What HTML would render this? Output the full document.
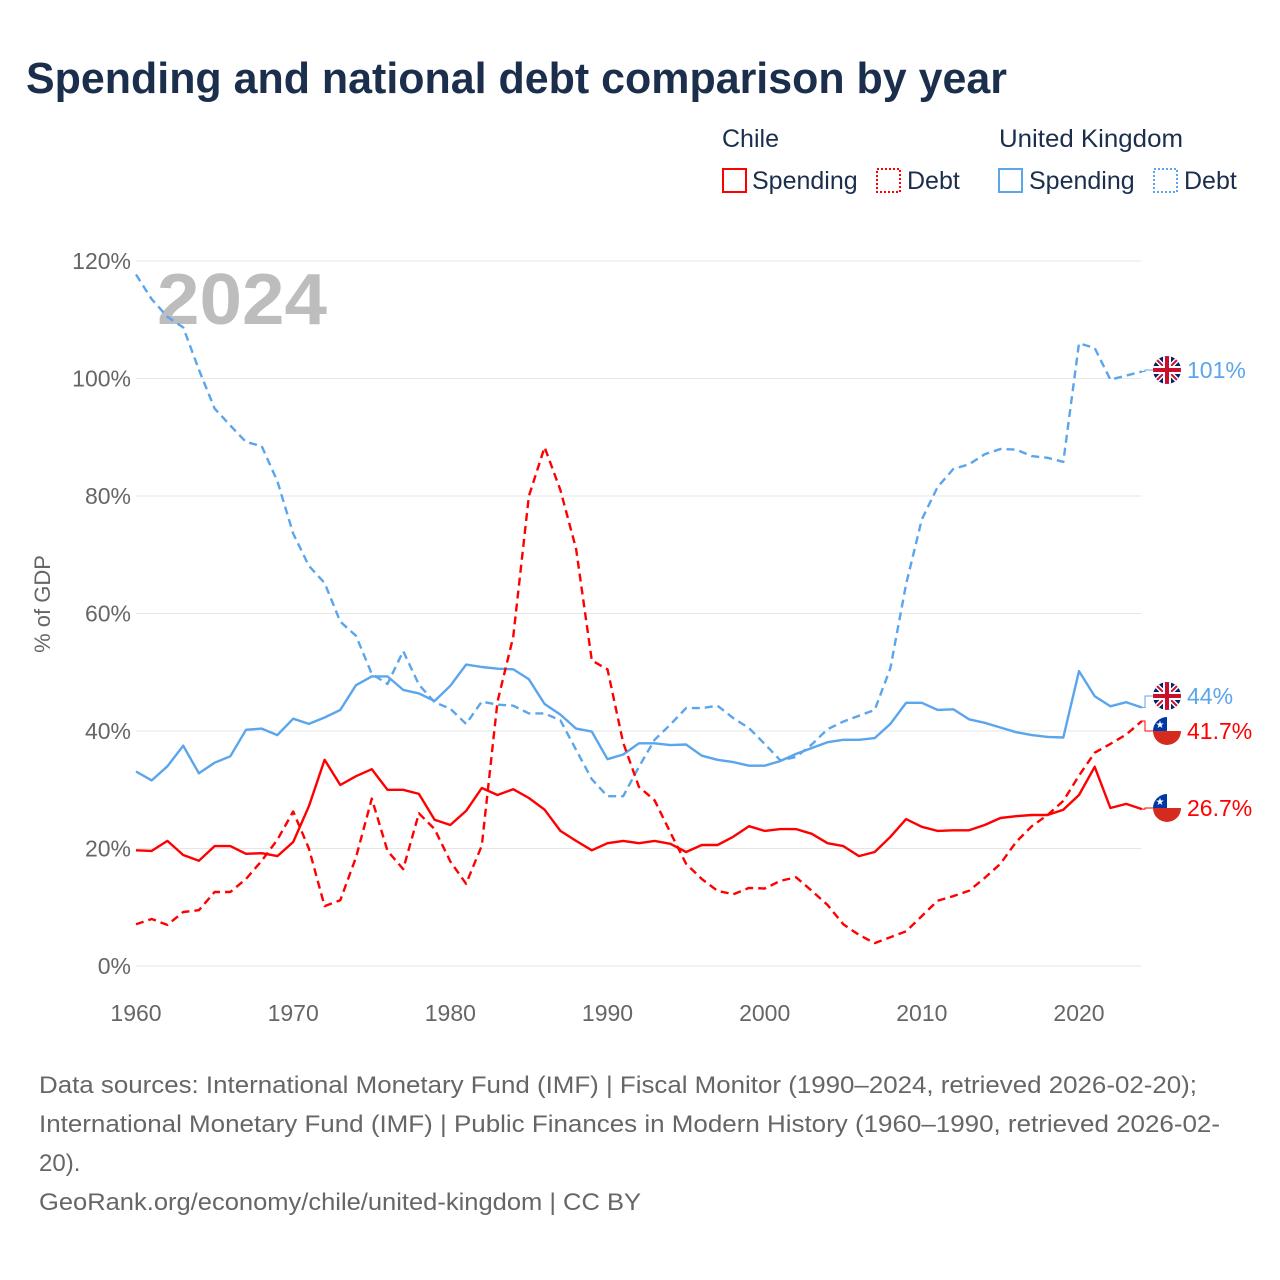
<!DOCTYPE html>
<html><head><meta charset="utf-8">
<style>
body{margin:0;background:#fff;font-family:"Liberation Sans",sans-serif;}
#wrap{position:relative;width:1280px;height:1280px;overflow:hidden;}
</style></head>
<body>
<div id="wrap">
<svg id="chart" width="1280" height="1280" xmlns="http://www.w3.org/2000/svg">
<text x="26" y="93" font-size="44" font-weight="bold" fill="#1b2f4d" textLength="981" lengthAdjust="spacingAndGlyphs">Spending and national debt comparison by year</text>
<g font-size="25" fill="#1b2f4d">
<text x="722" y="147">Chile</text>
<text x="999" y="147" textLength="184" lengthAdjust="spacingAndGlyphs">United Kingdom</text>
<g><rect x="723" y="169" width="23" height="23" fill="none" stroke="#f00" stroke-width="2"/><text x="752" y="189">Spending</text></g>
<g><rect x="877" y="169" width="23" height="23" fill="none" stroke="#f00" stroke-width="2" stroke-dasharray="2,2"/><text x="907" y="189">Debt</text></g>
<g><rect x="999" y="169" width="23" height="23" fill="none" stroke="#5aa5ec" stroke-width="2"/><text x="1029" y="189">Spending</text></g>
<g><rect x="1154" y="169" width="23" height="23" fill="none" stroke="#5aa5ec" stroke-width="2" stroke-dasharray="2,2"/><text x="1184" y="189">Debt</text></g>
</g>
<text x="157" y="324" font-size="72" font-weight="bold" fill="#bdbdbd" textLength="170" lengthAdjust="spacingAndGlyphs">2024</text>
<text transform="translate(50,604) rotate(-90)" text-anchor="middle" font-size="22" fill="#666">% of GDP</text>
<g id="grid"></g><g id="series"></g><g id="ends"></g>
<g font-size="24" fill="#666">
<text x="39" y="1093" textLength="1158" lengthAdjust="spacingAndGlyphs">Data sources: International Monetary Fund (IMF) | Fiscal Monitor (1990–2024, retrieved 2026-02-20);</text>
<text x="39" y="1132" textLength="1181" lengthAdjust="spacingAndGlyphs">International Monetary Fund (IMF) | Public Finances in Modern History (1960–1990, retrieved 2026-02-</text>
<text x="39" y="1171">20).</text>
<text x="39" y="1210" textLength="602" lengthAdjust="spacingAndGlyphs">GeoRank.org/economy/chile/united-kingdom | CC BY</text>
</g>
</svg>
</div>
<script>
const startYear = 1960;
const chileSpending = [19.7,19.6,21.3,18.9,17.9,20.4,20.4,19.1,19.2,18.7,21.1,27.2,35.1,30.8,32.3,33.5,30,30,29.3,24.9,24,26.4,30.3,29.1,30.1,28.6,26.6,23,21.3,19.7,20.9,21.3,20.9,21.3,20.8,19.4,20.6,20.6,22,23.8,23,23.3,23.3,22.5,20.9,20.4,18.7,19.4,22,25,23.7,23,23.1,23.1,24,25.2,25.5,25.7,25.7,26.6,29.1,33.9,26.9,27.6,26.7];
const chileDebt = [7.1,8,7,9.2,9.5,12.6,12.6,14.8,17.9,21.5,26.3,20,10.2,11.2,18.5,28.5,19.6,16.5,26,23.3,17.8,14,20.5,45,56,80,88.3,81,71,52,50.5,38,30.5,28.2,22.7,17.4,14.8,12.8,12.2,13.3,13.2,14.5,15.1,12.8,10.4,7.1,5.3,3.9,4.9,5.9,8.5,11.1,11.9,12.8,15,17.4,21.1,23.8,25.7,28.1,32.4,36.3,37.8,39.4,41.7];
const ukSpending = [33.1,31.6,34,37.5,32.8,34.6,35.7,40.2,40.4,39.3,42.1,41.2,42.3,43.6,47.8,49.3,49.3,47,46.4,45.1,47.7,51.3,50.9,50.6,50.5,48.8,44.6,42.8,40.4,39.9,35.2,36,37.9,37.9,37.6,37.7,35.8,35.1,34.7,34.1,34.1,34.9,36.1,37.1,38.1,38.5,38.5,38.8,41.2,44.8,44.8,43.6,43.7,42,41.4,40.6,39.8,39.3,39,38.9,50.2,45.9,44.2,44.9,44];
const ukDebt = [117.7,113.5,110.5,108.7,101.5,94.9,92,89.2,88.5,82.5,73.6,68.1,65.2,58.6,56.2,49.7,48,53.6,47.9,44.9,43.8,41.2,45,44.5,44.3,43,43,41.8,36.8,31.8,28.9,28.9,33.9,38.5,41.1,43.9,43.9,44.3,42.2,40.5,37.8,35,35.6,37.7,40.3,41.6,42.6,43.6,50.7,65,76,81.5,84.6,85.4,87.1,88,87.9,86.8,86.5,85.8,106,105.2,99.8,100.5,101.2];
const yTicks = [0,20,40,60,80,100,120];
const xTicks = [1960,1970,1980,1990,2000,2010,2020];
const endLabels = ["26.7%","41.7%","44%","101%"];

const NS="http://www.w3.org/2000/svg";
const X = yr => 136 + (yr-1960)*(1079-136)/60;
const Y = v => 966 - v*(966-261)/120;
function mk(tag, attrs, parent){const e=document.createElementNS(NS,tag);for(const k in attrs)e.setAttribute(k,attrs[k]);parent.appendChild(e);return e;}
const grid=document.getElementById('grid');
yTicks.forEach(t=>{
  const l=mk('line',{x1:136,x2:1141,y1:Y(t),y2:Y(t),stroke:'#e6e6e6','stroke-width':1},grid);
  
  
  const tx=mk('text',{x:131,y:Y(t)+8,'text-anchor':'end','font-size':23,fill:'#666'},grid);
  tx.textContent=t+'%';
  
  
});
xTicks.forEach(t=>{
  const tx=mk('text',{x:X(t),y:1021,'text-anchor':'middle','font-size':23,fill:'#666'},grid);
  tx.textContent=t;
  
  
});
const ser=document.getElementById('series');
function line(data,color,dash,name){
  const d=data.map((v,i)=>(i?'L':'M')+X(startYear+i).toFixed(1)+','+Y(v).toFixed(1)).join(' ');
  const p=mk('path',{d:d,fill:'none',stroke:color,'stroke-width':2.4,'stroke-linejoin':'round'},ser);
  if(dash)p.setAttribute('stroke-dasharray','8,5');
  
  
}
line(ukDebt,'#5aa5ec',true,'uk-debt-line');
line(ukSpending,'#5aa5ec',false,'uk-spending-line');
line(chileDebt,'#f00',true,'chile-debt-line');
line(chileSpending,'#f00',false,'chile-spending-line');

const ends=document.getElementById('ends');
const last=a=>a[a.length-1];
const items=[
 {v:last(chileSpending),y:808,c:'#f00',flag:'cl',lab:endLabels[0],n:'chile-spending'},
 {v:last(chileDebt),y:731,c:'#f00',flag:'cl',lab:endLabels[1],n:'chile-debt'},
 {v:last(ukSpending),y:696,c:'#5aa5ec',flag:'uk',lab:endLabels[2],n:'uk-spending'},
 {v:last(ukDebt),y:370,c:'#5aa5ec',flag:'uk',lab:endLabels[3],n:'uk-debt'}];
items.forEach(it=>{
  const x0=X(2024), yv=Y(it.v);
  mk('path',{d:`M${x0},${yv} L1145,${yv} L1145,${it.y} L1153,${it.y}`,fill:'none',stroke:it.c,'stroke-width':1},ends);
  const g=mk('g',{},ends);
  
  
  const cx=1167,cy=it.y,r=14;
  const id='clip'+it.n;
  const cp=mk('clipPath',{id:id},g); mk('circle',{cx:cx,cy:cy,r:r},cp);
  const gg=mk('g',{'clip-path':`url(#${id})`},g);
  if(it.flag==='cl'){
    mk('rect',{x:cx-r,y:cy-r,width:2*r,height:r,fill:'#fff'},gg);
    mk('rect',{x:cx-r,y:cy,width:2*r,height:r,fill:'#d52b1e'},gg);
    mk('rect',{x:cx-r,y:cy-r,width:r,height:r,fill:'#0039a6'},gg);
    const s=mk('text',{x:cx-r/2,y:cy-3,'text-anchor':'middle','font-size':10,fill:'#fff'},gg); s.textContent='★';
  } else {
    mk('rect',{x:cx-r,y:cy-r,width:2*r,height:2*r,fill:'#012169'},gg);
    mk('path',{d:`M${cx-r},${cy-r}L${cx+r},${cy+r}M${cx+r},${cy-r}L${cx-r},${cy+r}`,stroke:'#fff','stroke-width':5},gg);
    mk('path',{d:`M${cx-r},${cy-r}L${cx+r},${cy+r}M${cx+r},${cy-r}L${cx-r},${cy+r}`,stroke:'#c8102e','stroke-width':2},gg);
    mk('path',{d:`M${cx},${cy-r}V${cy+r}M${cx-r},${cy}H${cx+r}`,stroke:'#fff','stroke-width':8},gg);
    mk('path',{d:`M${cx},${cy-r}V${cy+r}M${cx-r},${cy}H${cx+r}`,stroke:'#c8102e','stroke-width':4},gg);
  }
  const t=mk('text',{x:1187,y:it.y+8,'font-size':23,fill:it.c},ends);
  t.textContent=it.lab;
  
  
});
</script>
</body></html>
